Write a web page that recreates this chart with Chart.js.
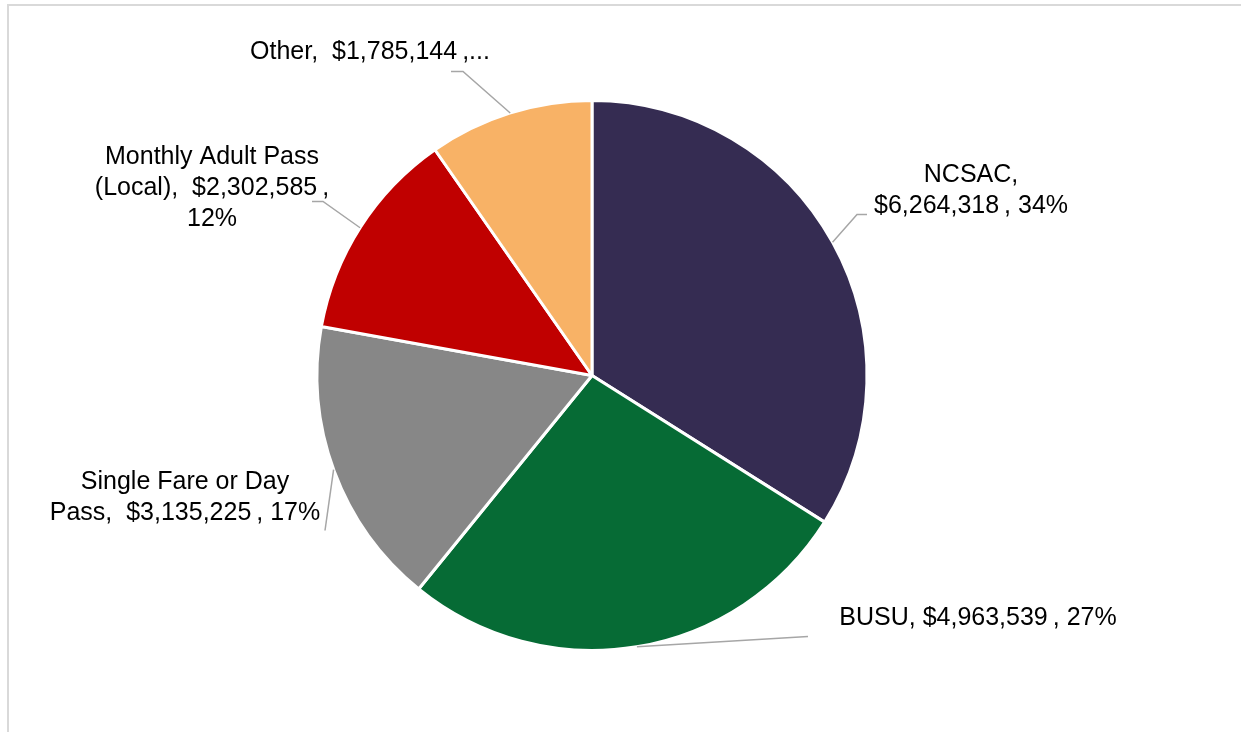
<!DOCTYPE html>
<html>
<head>
    <title>Fare Revenue by Type</title>
    <script src="https://cdn.jsdelivr.net/npm/chart.js"></script>
    <style>
        body { margin: 0; background: #fff; overflow: hidden; }
        #frame { position: absolute; left: 7px; top: 4px; width: 1400px; height: 900px;
                 border-left: 2px solid #d9d9d9; border-top: 2px solid #d9d9d9; }
        #wrap { position: absolute; left: 0; top: 0; width: 1241px; height: 732px; }
    </style>
</head>
<body>
    <div id="frame"></div>
    <div id="wrap">
        <canvas id="fareChart"></canvas>
    </div>

    <script>
        // data
        const categories = ["NCSAC", "BUSU", "Single Fare or Day Pass", "Monthly Adult Pass (Local)", "Other"];
        const revenue = [6264318, 4963539, 3135225, 2302585, 1785144];
        const sliceColors = ["#352C52", "#066B35", "#878787", "#C00000", "#F8B266"];

        const total = revenue.reduce((a, b) => a + b, 0);
        const money = v => "$" + v.toLocaleString("en-US");
        const pct = v => Math.round(v / total * 100) + "%";

        // label placement relative to pie centre; leader starts on the rim at `at` degrees
        const labelLayout = [
            { dx: 379, dy: -185, at: -29, bend: [[265, -161], [275, -161]], lines: ["{c},", "{v}\u2009, {p}"] },
            { dx: 386, dy: 243, at: 80.6, bend: [[216, 261]], lines: ["{c}, {v}\u2009, {p}"] },
            { dx: -407, dy: 122, at: 160, bend: [[-267, 155]], lines: ["Single Fare or Day", "Pass,  {v}\u2009, {p}"] },
            { dx: -380, dy: -187, at: 212.5, bend: [[-269, -174], [-280, -174]], lines: ["Monthly Adult Pass", "(Local),  {v}\u2009,", "{p}"] },
            { dx: -222, dy: -323, at: 252.7, bend: [[-129, -304], [-141, -304]], lines: ["{c},  {v}\u2009,..."] }
        ];

        const leaderLabels = {
            id: "leaderLabels",
            afterDatasetsDraw(chart) {
                const ctx = chart.ctx;
                const arcs = chart.getDatasetMeta(0).data;
                ctx.save();
                arcs.forEach((arc, i) => {
                    const lay = labelLayout[i];
                    const cx = arc.x, cy = arc.y, r = arc.outerRadius;
                    const a = lay.at * Math.PI / 180;
                    ctx.strokeStyle = "#A6A6A6";
                    ctx.lineWidth = 1.5;
                    ctx.beginPath();
                    ctx.moveTo(cx + Math.cos(a) * r, cy + Math.sin(a) * r);
                    lay.bend.forEach(p => ctx.lineTo(cx + p[0], cy + p[1]));
                    ctx.stroke();

                    ctx.fillStyle = "#000";
                    ctx.font = "25px 'Liberation Sans', Arial, sans-serif";
                    ctx.textAlign = "center";
                    ctx.textBaseline = "middle";
                    const lh = 31;
                    const n = lay.lines.length;
                    lay.lines.forEach((t, k) => {
                        const txt = t.replace("{c}", categories[i]).replace("{v}", money(revenue[i])).replace("{p}", pct(revenue[i]));
                        ctx.fillText(txt, cx + lay.dx, cy + lay.dy + (k - (n - 1) / 2) * lh);
                    });
                });
                ctx.restore();
            }
        };

        const ctx = document.getElementById("fareChart").getContext("2d");
        new Chart(ctx, {
            type: "pie",
            data: {
                labels: categories,
                datasets: [{
                    data: revenue,
                    backgroundColor: sliceColors,
                    borderColor: "#ffffff",
                    borderWidth: 3
                }]
            },
            options: {
                responsive: true,
                maintainAspectRatio: false,
                animation: false,
                layout: { padding: { top: 99, bottom: 80, left: 315, right: 372 } },
                plugins: {
                    legend: { display: false },
                    tooltip: { enabled: false }
                }
            },
            plugins: [leaderLabels]
        });
    </script>
</body>
</html>
